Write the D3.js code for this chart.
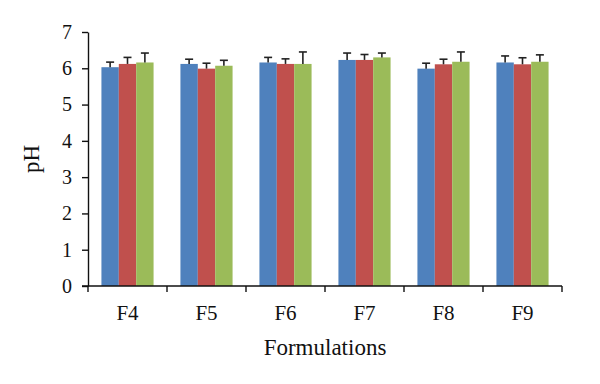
<!DOCTYPE html>
<html>
<head>
<meta charset="utf-8">
<script src="https://cdn.jsdelivr.net/npm/d3@7"></script>
<style>
  body { margin: 0; background: #fff; }
  svg { display: block; overflow: visible; }
  text { font-family: "Liberation Serif", "DejaVu Serif", serif; fill: #111; }
</style>
</head>
<body>
<div id="chart"></div>
<script>
const categories = ['F4', 'F5', 'F6', 'F7', 'F8', 'F9'];
const seriesNames = ['s1', 's2', 's3'];
const seriesColors = ['#4F81BD', '#C0504D', '#9BBB59'];
// mean pH per formulation, one array per series
const s1Values = [6.03, 6.12, 6.16, 6.23, 5.99, 6.16];
const s2Values = [6.12, 5.99, 6.12, 6.23, 6.11, 6.11];
const s3Values = [6.16, 6.07, 6.12, 6.30, 6.18, 6.18];
// standard deviations (upper error bar)
const s1Err = [0.14, 0.13, 0.14, 0.19, 0.15, 0.18];
const s2Err = [0.18, 0.15, 0.14, 0.15, 0.14, 0.18];
const s3Err = [0.26, 0.15, 0.33, 0.12, 0.27, 0.19];
const yTicks = [0, 1, 2, 3, 4, 5, 6, 7];

const values = [s1Values, s2Values, s3Values];
const errs = [s1Err, s2Err, s3Err];

const width = 600, height = 384;
const margin = {top: 32, right: 38, bottom: 98, left: 88};
const innerWidth = width - margin.left - margin.right;
const innerHeight = height - margin.top - margin.bottom;

const svg = d3.select('#chart').append('svg')
    .attr('width', width)
    .attr('height', height);

const g = svg.append('g')
    .attr('transform', `translate(${margin.left},${margin.top})`);

const xScale = d3.scaleBand()
    .domain(categories)
    .range([0, innerWidth])
    .paddingInner(0.34)
    .paddingOuter(0.17);

const xSub = d3.scaleBand()
    .domain(seriesNames)
    .range([0, xScale.bandwidth()]);

const yScale = d3.scaleLinear()
    .domain([0, 7])
    .range([innerHeight, 0]);

// bars
const data = [];
categories.forEach((c, i) => {
    seriesNames.forEach((s, j) => {
        data.push({cat: c, series: s, value: values[j][i], err: errs[j][i], color: seriesColors[j]});
    });
});

g.append('g').selectAll('rect').data(data)
    .enter().append('rect')
    .attr('x', d => xScale(d.cat) + xSub(d.series))
    .attr('y', d => yScale(d.value))
    .attr('width', xSub.bandwidth())
    .attr('height', d => innerHeight - yScale(d.value))
    .attr('fill', d => d.color);

// error bars
const errG = g.append('g').attr('stroke', '#222').attr('stroke-width', 1.6);
errG.selectAll('line.v').data(data)
    .enter().append('line')
    .attr('class', 'v')
    .attr('x1', d => xScale(d.cat) + xSub(d.series) + xSub.bandwidth() / 2)
    .attr('x2', d => xScale(d.cat) + xSub(d.series) + xSub.bandwidth() / 2)
    .attr('y1', d => yScale(d.value))
    .attr('y2', d => yScale(d.value + d.err));
errG.selectAll('line.cap').data(data)
    .enter().append('line')
    .attr('class', 'cap')
    .attr('x1', d => xScale(d.cat) + xSub(d.series) + xSub.bandwidth() / 2 - 4)
    .attr('x2', d => xScale(d.cat) + xSub(d.series) + xSub.bandwidth() / 2 + 4)
    .attr('y1', d => yScale(d.value + d.err))
    .attr('y2', d => yScale(d.value + d.err));

// y axis
const yAxis = d3.axisLeft(yScale)
    .tickValues(yTicks)
    .tickFormat(d3.format('d'))
    .tickSize(6)
    .tickSizeOuter(0)
    .tickPadding(10);
const yAxisG = g.append('g').call(yAxis)
    .attr('font-family', null)
    .attr('font-size', null);
yAxisG.selectAll('line, path').attr('stroke', '#111').attr('stroke-width', 1.4);
yAxisG.selectAll('text').attr('font-size', 20).attr('fill', '#111');

// x axis with ticks at category boundaries
const xAxisG = g.append('g').attr('transform', `translate(0,${innerHeight})`);
xAxisG.append('line')
    .attr('x1', -6).attr('x2', innerWidth)
    .attr('stroke', '#111').attr('stroke-width', 1.4);
const step = xScale.step();
const bounds = d3.range(categories.length + 1).map(i => i * step);
xAxisG.selectAll('line.tick').data(bounds)
    .enter().append('line')
    .attr('class', 'tick')
    .attr('x1', d => d).attr('x2', d => d)
    .attr('y1', 0).attr('y2', 6)
    .attr('stroke', '#111').attr('stroke-width', 1.4);
xAxisG.selectAll('text').data(categories)
    .enter().append('text')
    .attr('x', d => xScale(d) + xScale.bandwidth() / 2)
    .attr('y', 34)
    .attr('text-anchor', 'middle')
    .attr('font-size', 21)
    .text(d => d);

// axis titles
g.append('text')
    .attr('x', innerWidth / 2)
    .attr('y', innerHeight + 69)
    .attr('text-anchor', 'middle')
    .attr('font-size', 23)
    .text('Formulations');

g.append('text')
    .attr('transform', `translate(${-49},${innerHeight / 2}) rotate(-90)`)
    .attr('text-anchor', 'middle')
    .attr('font-size', 23)
    .text('pH');
</script>
</body>
</html>
